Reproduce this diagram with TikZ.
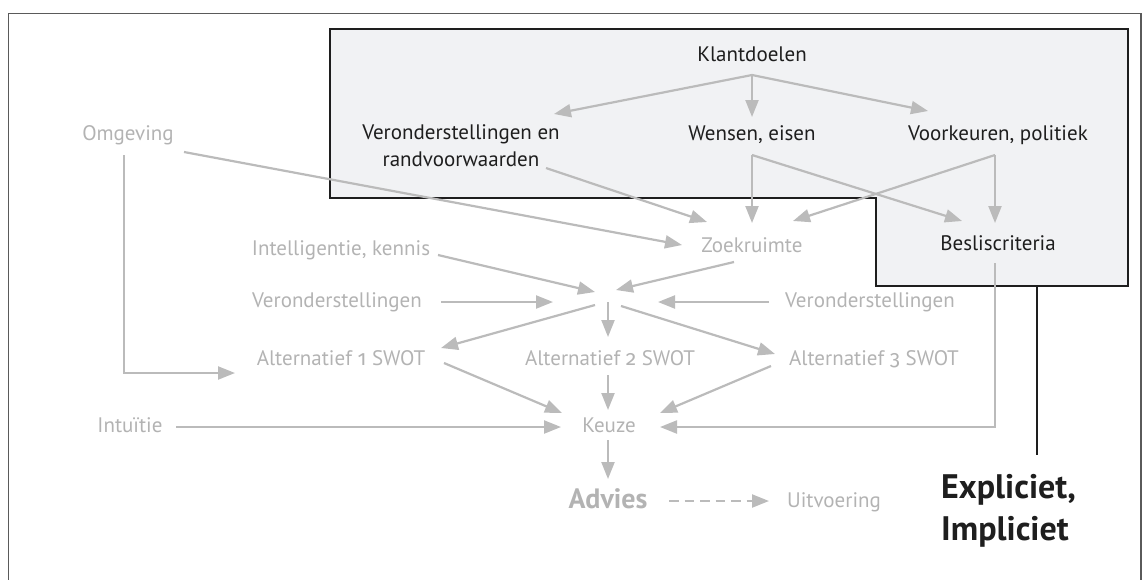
\documentclass[tikz,border=0pt]{standalone}
\usepackage{fontspec}
\setmainfont{PT Sans}
\newfontfamily\onumfont{Fira Sans}[Numbers=OldStyle]
\usetikzlibrary{arrows.meta}
\definecolor{lgrey}{HTML}{BBBBBB}
\definecolor{tgrey}{HTML}{B3B3B3}
\definecolor{boxfill}{HTML}{F1F2F4}
\definecolor{framegrey}{HTML}{5A5A5A}
\definecolor{ink}{HTML}{1E1E1E}
\begin{document}
\begin{tikzpicture}[x=1pt,y=-1pt,
  arr/.style={draw=lgrey, line width=2.2pt, -{Triangle[length=17pt,width=13pt]}},
  blk/.style={text=ink, font=\fontsize{21}{27}\selectfont, inner sep=0pt, anchor=base},
  gry/.style={text=tgrey, font=\fontsize{21}{27}\selectfont, inner sep=0pt, anchor=base},
  dashline/.style={draw=lgrey, line width=2.2pt, dash pattern=on 9.5pt off 6pt, -{Triangle[length=17pt,width=13pt]}},
]
\useasboundingbox (0,0) rectangle (1143,579);
\clip (0,0) rectangle (1143,579);
% outer frame
\draw[framegrey, line width=1.5pt] (8.5,700) -- (8.5,13.5) -- (1141,13.5) -- (1141,700);
% shaded client box
\draw[fill=boxfill, draw=ink, line width=2.5pt, line join=miter]
  (330,29) -- (1128,29) -- (1128,286) -- (876,286) -- (876,198) -- (330,198) -- cycle;
\coordinate (boxfoot) at (1037,286);
\coordinate (linefoot) at (1037,455);
\draw[ink, line width=2.5pt] (boxfoot) -- (linefoot);

% nodes
\node[blk] (klant) at (752,61) {Klantdoelen};
\node[blk, anchor=center, align=center] (veron) at (461,146) {Veronderstellingen en\\randvoorwaarden};
\node[blk] (wensen) at (752,140) {Wensen, eisen};
\node[blk] (voork) at (998,140) {Voorkeuren, politiek};
\node[blk] (besl) at (998,250) {Besliscriteria};
\node[gry] (zoek) at (752,252) {Zoekruimte};
\node[gry] (omg) at (128,140) {Omgeving};
\node[gry] (intel) at (341,255) {Intelligentie, kennis};
\node[gry] (verL) at (337,307) {Veronderstellingen};
\node[gry] (verR) at (870,307) {Veronderstellingen};
\node[gry] (alt1) at (341,365) {Alternatief {\onumfont 1} SWOT};
\node[gry] (alt2) at (610,365) {Alternatief {\onumfont 2} SWOT};
\node[gry] (alt3) at (874,365) {Alternatief {\onumfont 3} SWOT};
\node[gry] (intu) at (130,432) {Intuïtie};
\node[gry] (keuze) at (609,432) {Keuze};
\node[text=tgrey, font=\bfseries\fontsize{28}{32}\selectfont, inner sep=0pt, anchor=base] (advies) at (608,508) {Advies};
\node[gry] (uitv) at (834,507) {Uitvoering};
\node[text=ink, font=\bfseries\fontsize{34}{42}\selectfont, inner sep=0pt, anchor=base west, align=left] (expl) at (941,540) {Expliciet,\\Impliciet};

% connector end points
\coordinate (kdS) at (752,75);
\coordinate (veronN) at (554,114);
\coordinate (wensN) at (752,117);
\coordinate (voorkN) at (928,111);
\coordinate (veronS) at (546,168);
\coordinate (zoekNW) at (707,222);
\coordinate (wensS) at (752,155);
\coordinate (zoekN) at (752,223);
\coordinate (beslNW) at (962,221);
\coordinate (voorkS) at (995,155);
\coordinate (zoekNE) at (793,221);
\coordinate (beslN) at (995,223);
\coordinate (omgE) at (184,152);
\coordinate (zoekW) at (682,245);
\coordinate (omgS) at (124,155);
\coordinate (alt1W) at (235,373);
\coordinate (intelE) at (438,255);
\coordinate (hubNW) at (595,292);
\coordinate (zoekSW) at (734,262);
\coordinate (hubNE) at (616,290);
\coordinate (verLE) at (441,302);
\coordinate (hubW) at (553,302);
\coordinate (verRW) at (769,302);
\coordinate (hubE) at (658,302);
\coordinate (hubSW) at (595,305);
\coordinate (alt1NE) at (441,348);
\coordinate (hubS) at (608,302);
\coordinate (alt2N) at (608,337);
\coordinate (hubSE) at (621,306);
\coordinate (alt3NW) at (775,354);
\coordinate (alt1SE) at (444,363);
\coordinate (keuzeNW) at (562,413);
\coordinate (alt2S) at (608,375);
\coordinate (keuzeN) at (608,410);
\coordinate (alt3SW) at (771,366);
\coordinate (keuzeNE) at (660,413);
\coordinate (intuE) at (176,427);
\coordinate (keuzeW) at (561,427);
\coordinate (beslS) at (995,263);
\coordinate (keuzeE) at (660,427);
\coordinate (keuzeS) at (608,440);
\coordinate (adviesN) at (608,479);
\coordinate (adviesE) at (669,501);
\coordinate (uitvW) at (769,501);

% connectors
\draw[arr] (kdS) -- (veronN);
\draw[arr] (kdS) -- (wensN);
\draw[arr] (kdS) -- (voorkN);
\draw[arr] (veronS) -- (zoekNW);
\draw[arr] (wensS) -- (zoekN);
\draw[arr] (wensS) -- (beslNW);
\draw[arr] (voorkS) -- (zoekNE);
\draw[arr] (voorkS) -- (beslN);
\draw[arr] (omgE) -- (zoekW);
\draw[arr] (omgS) |- (alt1W);
\draw[arr] (intelE) -- (hubNW);
\draw[arr] (zoekSW) -- (hubNE);
\draw[arr] (verLE) -- (hubW);
\draw[arr] (verRW) -- (hubE);
\draw[arr] (hubSW) -- (alt1NE);
\draw[arr] (hubS) -- (alt2N);
\draw[arr] (hubSE) -- (alt3NW);
\draw[arr] (alt1SE) -- (keuzeNW);
\draw[arr] (alt2S) -- (keuzeN);
\draw[arr] (alt3SW) -- (keuzeNE);
\draw[arr] (intuE) -- (keuzeW);
\draw[arr] (beslS) |- (keuzeE);
\draw[arr] (keuzeS) -- (adviesN);
\draw[dashline] (adviesE) -- (uitvW);
\end{tikzpicture}
\end{document}
